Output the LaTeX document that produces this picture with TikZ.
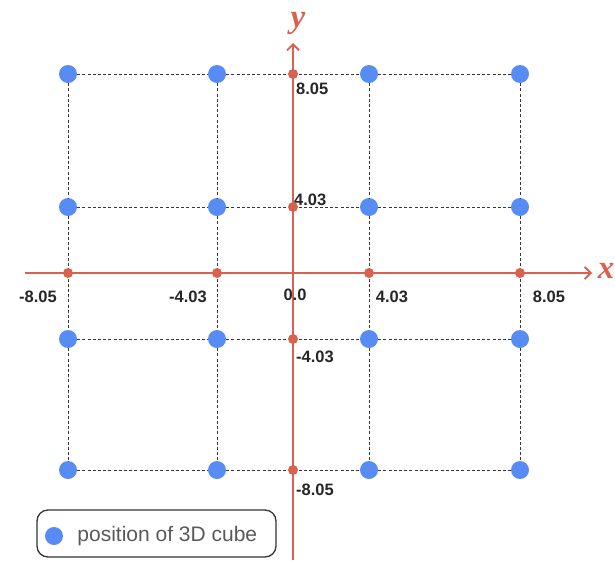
\documentclass[tikz,border=0pt]{standalone}
\usepackage{fontspec}
\setmainfont{Liberation Sans}
\newfontfamily\axfont{Liberation Serif}
\usepackage{tikz}
\usetikzlibrary{arrows.meta,positioning}

\definecolor{cubeblue}{RGB}{88,140,245}
\definecolor{axisred}{RGB}{217,98,78}
\definecolor{gridgray}{RGB}{55,55,55}

\begin{document}
\begin{tikzpicture}[x=1pt, y=-1pt,
          cube/.style={circle, fill=cubeblue, minimum size=18pt, inner sep=0pt},
          tick/.style={circle, fill=axisred, minimum size=10pt, inner sep=0pt},
          gridline/.style={gridgray, line width=1pt, dash pattern=on 3pt off 2.2pt},
          axis/.style={axisred, line width=1.8pt, -{Straight Barb[length=6pt, width=12pt]}},
          num/.style={font=\fontsize{16.5}{16.5}\selectfont\bfseries, text=black!85, inner sep=1pt},
          axlab/.style={text=axisred, inner sep=0pt, font=\axfont\fontsize{33}{33}\selectfont\itshape\bfseries},
        ]
          \useasboundingbox (0,0) rectangle (615,560);

          %% cube positions
          \foreach \c/\x in {a/68, b/217, c/369, d/520}
            \foreach \r/\y in {1/74, 2/207, 3/339, 4/470}
              \node[cube] (\c\r) at (\x,\y) {};

          %% dashed grid
          \foreach \r in {1,2,3,4}
            \draw[gridline] (a\r) -- (b\r) -- (c\r) -- (d\r);
          \foreach \c in {a,b,c,d}
            \draw[gridline] (\c1) -- (\c2) -- (\c3) -- (\c4);

          %% axes
          \coordinate (xstart) at (25,273);
          \coordinate (xend)   at (592,273);
          \coordinate (ystart) at (293,560);
          \coordinate (yend)   at (293,43);
          \draw[axis] (xstart) -- (xend);
          \draw[axis] (ystart) -- (yend);
          \node[axlab] (xlab) at (606,271) {x};
          \node[axlab] (ylab) at (298,23)  {y};

          %% ticks on the axes
          \node[tick] (xa) at (68,273)  {};
          \node[tick] (xb) at (217,273) {};
          \node[tick] (xc) at (369,273) {};
          \node[tick] (xd) at (520,273) {};
          \node[tick] (y1) at (293,74)  {};
          \node[tick] (y2) at (293,207) {};
          \node[tick] (y3) at (293,339) {};
          \node[tick] (y4) at (293,470) {};

          %% tick values
          \node[num] (lxa) at (38,297)  {-8.05};
          \node[num] (lxb) at (188,297) {-4.03};
          \node[num] (lo)  at (295,295) {0.0};
          \node[num] (lxc) at (392,297) {4.03};
          \node[num] (lxd) at (549,297) {8.05};
          \node[num, anchor=west] (ly1) at (295,89)  {8.05};
          \node[num, anchor=west] (ly2) at (293,200) {4.03};
          \node[num, anchor=west] (ly3) at (295,357) {-4.03};
          \node[num, anchor=west] (ly4) at (295,490) {-8.05};

          %% legend
          \draw[line width=1.3pt, rounded corners=11pt, black!80] (37,510) rectangle (276,557);
          \node[cube] (legdot) at (54,536) {};
          \node[right=14pt of legdot, text=black!65, font=\fontsize{21}{21}\selectfont, inner sep=0pt] (legtext) {position of 3D cube};
        \end{tikzpicture}
\end{document}
